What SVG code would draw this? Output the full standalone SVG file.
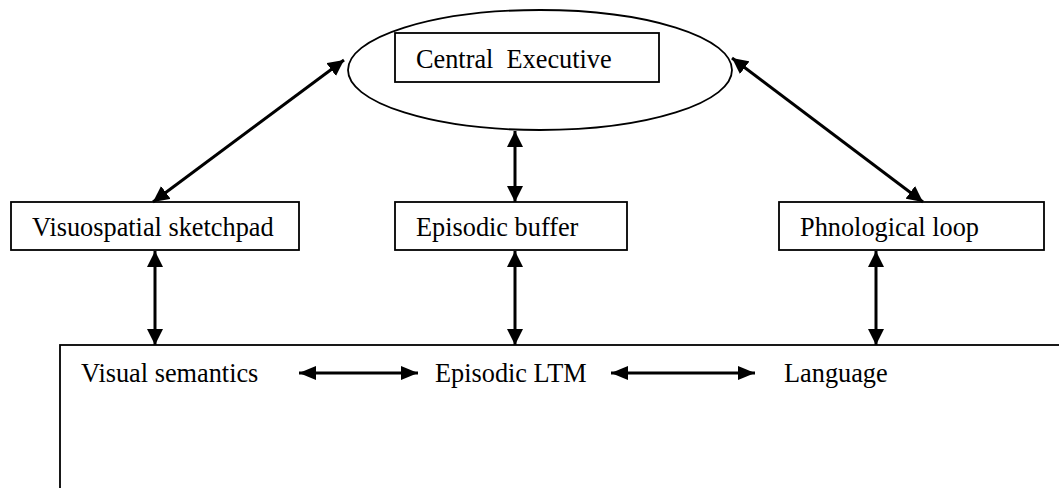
<svg xmlns="http://www.w3.org/2000/svg" width="1059" height="488" viewBox="0 0 1059 488">
<style>
  .box{fill:#fff;stroke:#000;stroke-width:1.8}
  .lbl{font-family:"Liberation Serif","Times New Roman",serif;font-size:26.3px;fill:#000}
  .arr{stroke:#000;stroke-width:3;fill:none;marker-start:url(#ah);marker-end:url(#ah)}
  .harr{stroke:#000;stroke-width:3;fill:none;marker-start:url(#ahh);marker-end:url(#ahh)}
</style>
<defs>
  <marker id="ah" markerUnits="userSpaceOnUse" markerWidth="17" markerHeight="16" refX="16" refY="8" orient="auto-start-reverse" viewBox="0 0 17 16">
    <path d="M0,0 L16,8 L0,16 z" fill="#000"/>
  </marker>
  <marker id="ahh" markerUnits="userSpaceOnUse" markerWidth="18" markerHeight="14" refX="17" refY="7" orient="auto-start-reverse" viewBox="0 0 18 14">
    <path d="M0,0 L17,7 L0,14 z" fill="#000"/>
  </marker>
</defs>
<rect width="1059" height="488" fill="#fff"/>
<g id="ltm">
  <rect class="box" x="60" y="345" width="1020" height="160"/>
  <text class="lbl" x="81" y="382">Visual semantics</text>
  <text class="lbl" x="435" y="382">Episodic LTM</text>
  <text class="lbl" x="784" y="382">Language</text>
</g>
<g id="central-executive">
  <ellipse cx="540" cy="70" rx="192" ry="60" fill="#fff" stroke="#000" stroke-width="1.8"/>
  <rect class="box" x="395" y="33" width="264" height="49"/>
  <text class="lbl" x="416" y="68" xml:space="preserve">Central  Executive</text>
</g>
<g id="visuospatial">
  <rect class="box" x="11" y="202" width="288" height="48"/>
  <text class="lbl" x="32" y="236">Visuospatial sketchpad</text>
</g>
<g id="episodic-buffer">
  <rect class="box" x="395" y="202" width="232" height="48"/>
  <text class="lbl" x="416" y="236">Episodic buffer</text>
</g>
<g id="phonological">
  <rect class="box" x="779" y="202" width="265" height="48"/>
  <text class="lbl" x="800" y="236">Phnological loop</text>
</g>
<g id="connectors">
  <line class="arr" x1="153" y1="202" x2="344" y2="60"/>
  <line class="arr" x1="732" y1="58" x2="923" y2="202"/>
  <line class="arr" x1="515" y1="131" x2="515" y2="202"/>
  <line class="arr" x1="155" y1="251" x2="155" y2="345"/>
  <line class="arr" x1="515" y1="251" x2="515" y2="345"/>
  <line class="arr" x1="876" y1="251" x2="876" y2="345"/>
  <line class="harr" x1="299" y1="373" x2="418" y2="373"/>
  <line class="harr" x1="611" y1="373" x2="755" y2="373"/>
</g>
</svg>
